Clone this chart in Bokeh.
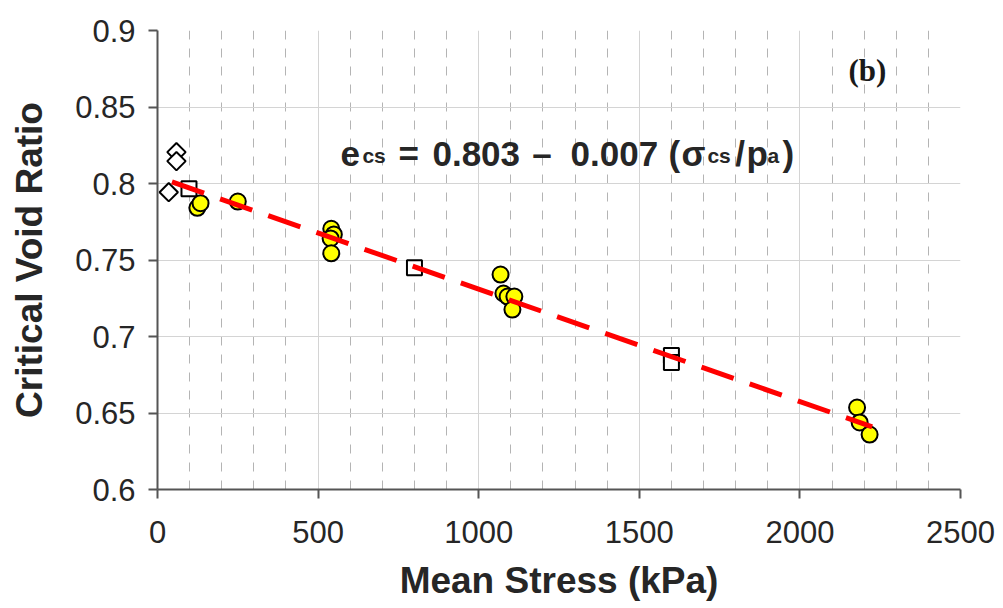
import numpy as np
from bokeh.plotting import figure
from bokeh.models import FixedTicker, Label, CustomJSTickFormatter
from bokeh.embed import file_html
from bokeh.resources import INLINE

# ---- data ----
circle_stress = [124, 134, 250, 541, 549, 539, 541, 1068, 1077, 1090, 1111, 1105, 2178, 2186, 2217]
circle_e = [0.7841, 0.7871, 0.7882, 0.7704, 0.7667, 0.7641, 0.7544, 0.7405, 0.7281, 0.7261, 0.7261, 0.7176, 0.6536, 0.6438, 0.6359]

square_stress = [98, 800, 1600, 1600]
square_e = [0.7965, 0.7450, 0.6876, 0.6830]

diamond_stress = [59, 59, 35]
diamond_e = [0.8205, 0.8146, 0.7943]

fit_stress = [45, 2225]
fit_e = [0.801, 0.641]

x_ticks = [0, 500, 1000, 1500, 2000, 2500]
x_minor = [100, 200, 300, 400, 600, 700, 800, 900, 1100, 1200, 1300, 1400,
           1600, 1700, 1800, 1900, 2100, 2200, 2300, 2400]
y_ticks = [0.6, 0.65, 0.7, 0.75, 0.8, 0.85, 0.9]

FONT = "Liberation Sans"
TXT = "#262626"

p = figure(width=1003, height=608, output_backend="svg", toolbar_location=None,
           x_range=(0, 2500), y_range=(0.6, 0.9),
           min_border_left=157, min_border_right=43, min_border_top=30, min_border_bottom=119)
p.outline_line_color = None
p.background_fill_color = "white"
p.border_fill_color = "white"

# axes
p.xaxis.ticker = FixedTicker(ticks=x_ticks, minor_ticks=x_minor)
p.yaxis.ticker = FixedTicker(ticks=y_ticks)
p.yaxis.formatter = CustomJSTickFormatter(code="return parseFloat(tick.toFixed(2)).toString();")
for ax in (p.xaxis[0], p.yaxis[0]):
    ax.axis_line_color = "#555555"
    ax.axis_line_width = 2
    ax.major_tick_line_color = "#555555"
    ax.major_tick_line_width = 2
    ax.major_tick_out = 9
    ax.major_tick_in = 0
    ax.minor_tick_line_color = None
    ax.major_label_text_font = FONT
    ax.major_label_text_font_size = "31px"
    ax.major_label_text_color = TXT
    ax.axis_label_text_font = FONT
    ax.axis_label_text_font_size = "37px"
    ax.axis_label_text_font_style = "bold"
    ax.axis_label_text_color = TXT
p.xaxis.axis_label = "Mean Stress (kPa)"
p.yaxis.axis_label = "Critical Void Ratio"
p.xaxis.major_label_standoff = 22
p.yaxis.major_label_standoff = 13
p.xaxis.axis_label_standoff = 14
p.yaxis.axis_label_standoff = 22

# grids
p.xgrid.grid_line_color = "#d4d4d4"
p.xgrid.grid_line_width = 1
p.xgrid.minor_grid_line_color = "#b4b4b4"
p.xgrid.minor_grid_line_dash = "9 9"
p.xgrid.minor_grid_line_width = 1
p.ygrid.grid_line_color = "#d4d4d4"
p.ygrid.grid_line_width = 1

# markers
p.scatter(diamond_stress, diamond_e, marker="square", angle=np.pi / 4, size=13,
          fill_color="white", line_color="black", line_width=2)
p.scatter(square_stress, square_e, marker="square", size=15,
          fill_color="white", line_color="black", line_width=2)
p.scatter(circle_stress, circle_e, marker="circle", size=16,
          fill_color="#FFFF00", line_color="black", line_width=2)

# fit line
p.line(fit_stress, fit_e, line_color="#FF0000", line_width=5, line_dash="34 17")

# equation text composed of pieces
main_y = 0.8196
sub_y = 0.8180
MAIN = "35px"
SUB = "21px"
pieces = [
    ("e", 570, main_y, MAIN),
    ("cs", 638, sub_y, SUB),
    ("=", 750, main_y, MAIN),
    ("0.803", 856, main_y, MAIN),
    ("\u2013", 1167, main_y, MAIN),
    ("0.007", 1286, main_y, MAIN),
    ("(", 1591, main_y, MAIN),
    ("\u03c3", 1631, main_y, MAIN),
    ("cs", 1712, sub_y, SUB),
    ("/", 1799, main_y, MAIN),
    ("p", 1834, main_y, MAIN),
    ("a", 1899, sub_y, SUB),
    (")", 1946, main_y, MAIN),
]
for t, x, y, fs in pieces:
    p.add_layout(Label(x=x, y=y, text=t, text_font=FONT, text_font_size=fs,
                       text_font_style="bold", text_color=TXT,
                       text_align="left", text_baseline="alphabetic"))

p.add_layout(Label(x=2151, y=0.8739, text="(b)", text_font="Liberation Serif",
                   text_font_size="31px", text_font_style="bold", text_color="#1a1a1a",
                   text_align="left", text_baseline="alphabetic"))

open("out.html", "w").write(file_html(p, INLINE))
